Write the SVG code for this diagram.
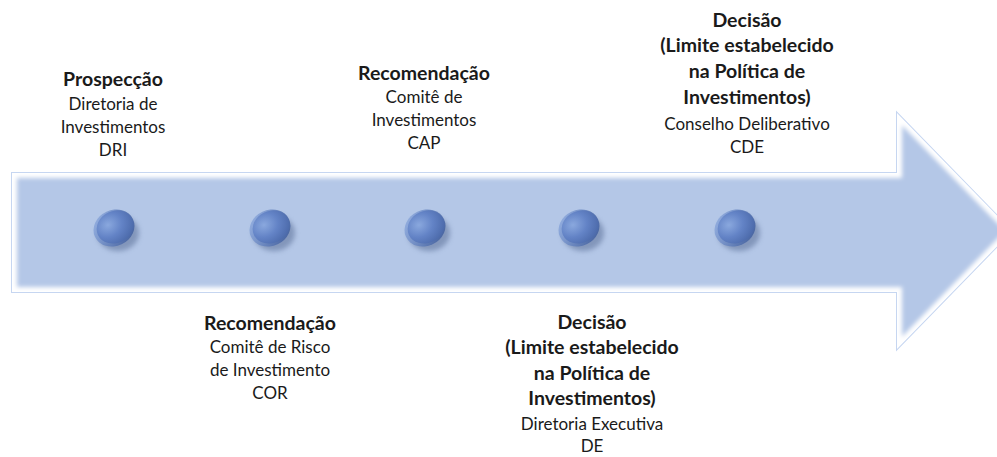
<svg xmlns="http://www.w3.org/2000/svg" width="997" height="457" viewBox="0 0 997 457">
<defs>
<style>
text{font-family:Lato,"Liberation Sans",sans-serif;fill:#1a1a1a;text-anchor:middle}
.b{font-weight:bold;font-size:19.5px}
.n{font-size:17px}
</style>
<clipPath id="ac"><path d="M12,173 L897,173 L897,113 L1012,231 L897,349 L897,292 L12,292 Z"/></clipPath>
<filter id="blur" x="-5%" y="-20%" width="110%" height="140%"><feGaussianBlur stdDeviation="2"/></filter>
<filter id="sh" x="-50%" y="-50%" width="200%" height="200%"><feGaussianBlur stdDeviation="2.5"/></filter>
<radialGradient id="dg" cx="0.35" cy="0.35" r="0.75">
<stop offset="0" stop-color="#8AA8DE"/>
<stop offset="0.5" stop-color="#6383C6"/>
<stop offset="1" stop-color="#4A68A8"/>
</radialGradient>
<linearGradient id="rim" x1="0" y1="0" x2="1" y2="1">
<stop offset="0" stop-color="#9DB8E8"/>
<stop offset="1" stop-color="#3D5A98"/>
</linearGradient>
<g id="dot">
<ellipse cx="4" cy="5" rx="21" ry="18" fill="#5a6e96" opacity="0.55" filter="url(#sh)"/>
<ellipse cx="0" cy="0" rx="21" ry="18" fill="url(#rim)" transform="rotate(-25)"/>
<ellipse cx="1.5" cy="-0.5" rx="19" ry="16" fill="url(#dg)" transform="rotate(-25)"/>
</g>
</defs>
<rect width="997" height="457" fill="#ffffff"/>
<g id="arrow">
<path d="M12,173 L897,173 L897,113 L1012,231 L897,349 L897,292 L12,292 Z" fill="#B4C7E7" stroke="#C6D6F1" stroke-width="2"/>
<g clip-path="url(#ac)">
<path d="M12,173 L897,173 L897,113 L1012,231 L897,349 L897,292 L12,292 Z" fill="none" stroke="#ffffff" stroke-width="10" filter="url(#blur)"/>
</g>
</g>
<g id="dots">
<use href="#dot" x="114" y="228"/>
<use href="#dot" x="270" y="228"/>
<use href="#dot" x="425" y="228"/>
<use href="#dot" x="579" y="228"/>
<use href="#dot" x="735" y="228"/>
</g>
<g id="n1">
<text class="b" x="113" y="86">Prospecção</text>
<text class="n" x="113" y="110">Diretoria de</text>
<text class="n" x="113" y="133">Investimentos</text>
<text class="n" x="113" y="156">DRI</text>
</g>
<g id="n2">
<text class="b" x="270" y="330">Recomendação</text>
<text class="n" x="270" y="353">Comitê de Risco</text>
<text class="n" x="270" y="376">de Investimento</text>
<text class="n" x="270" y="399">COR</text>
</g>
<g id="n3">
<text class="b" x="424" y="80">Recomendação</text>
<text class="n" x="424" y="103">Comitê de</text>
<text class="n" x="424" y="126">Investimentos</text>
<text class="n" x="424" y="149">CAP</text>
</g>
<g id="n4">
<text class="b" x="592" y="329">Decisão</text>
<text class="b" x="592" y="354">(Limite estabelecido</text>
<text class="b" x="592" y="380">na Política de</text>
<text class="b" x="592" y="405">Investimentos)</text>
<text class="n" x="592" y="430">Diretoria Executiva</text>
<text class="n" x="592" y="452">DE</text>
</g>
<g id="n5">
<text class="b" x="747" y="27">Decisão</text>
<text class="b" x="747" y="52">(Limite estabelecido</text>
<text class="b" x="747" y="78">na Política de</text>
<text class="b" x="747" y="104">Investimentos)</text>
<text class="n" x="747" y="130">Conselho Deliberativo</text>
<text class="n" x="747" y="153">CDE</text>
</g>
</svg>
